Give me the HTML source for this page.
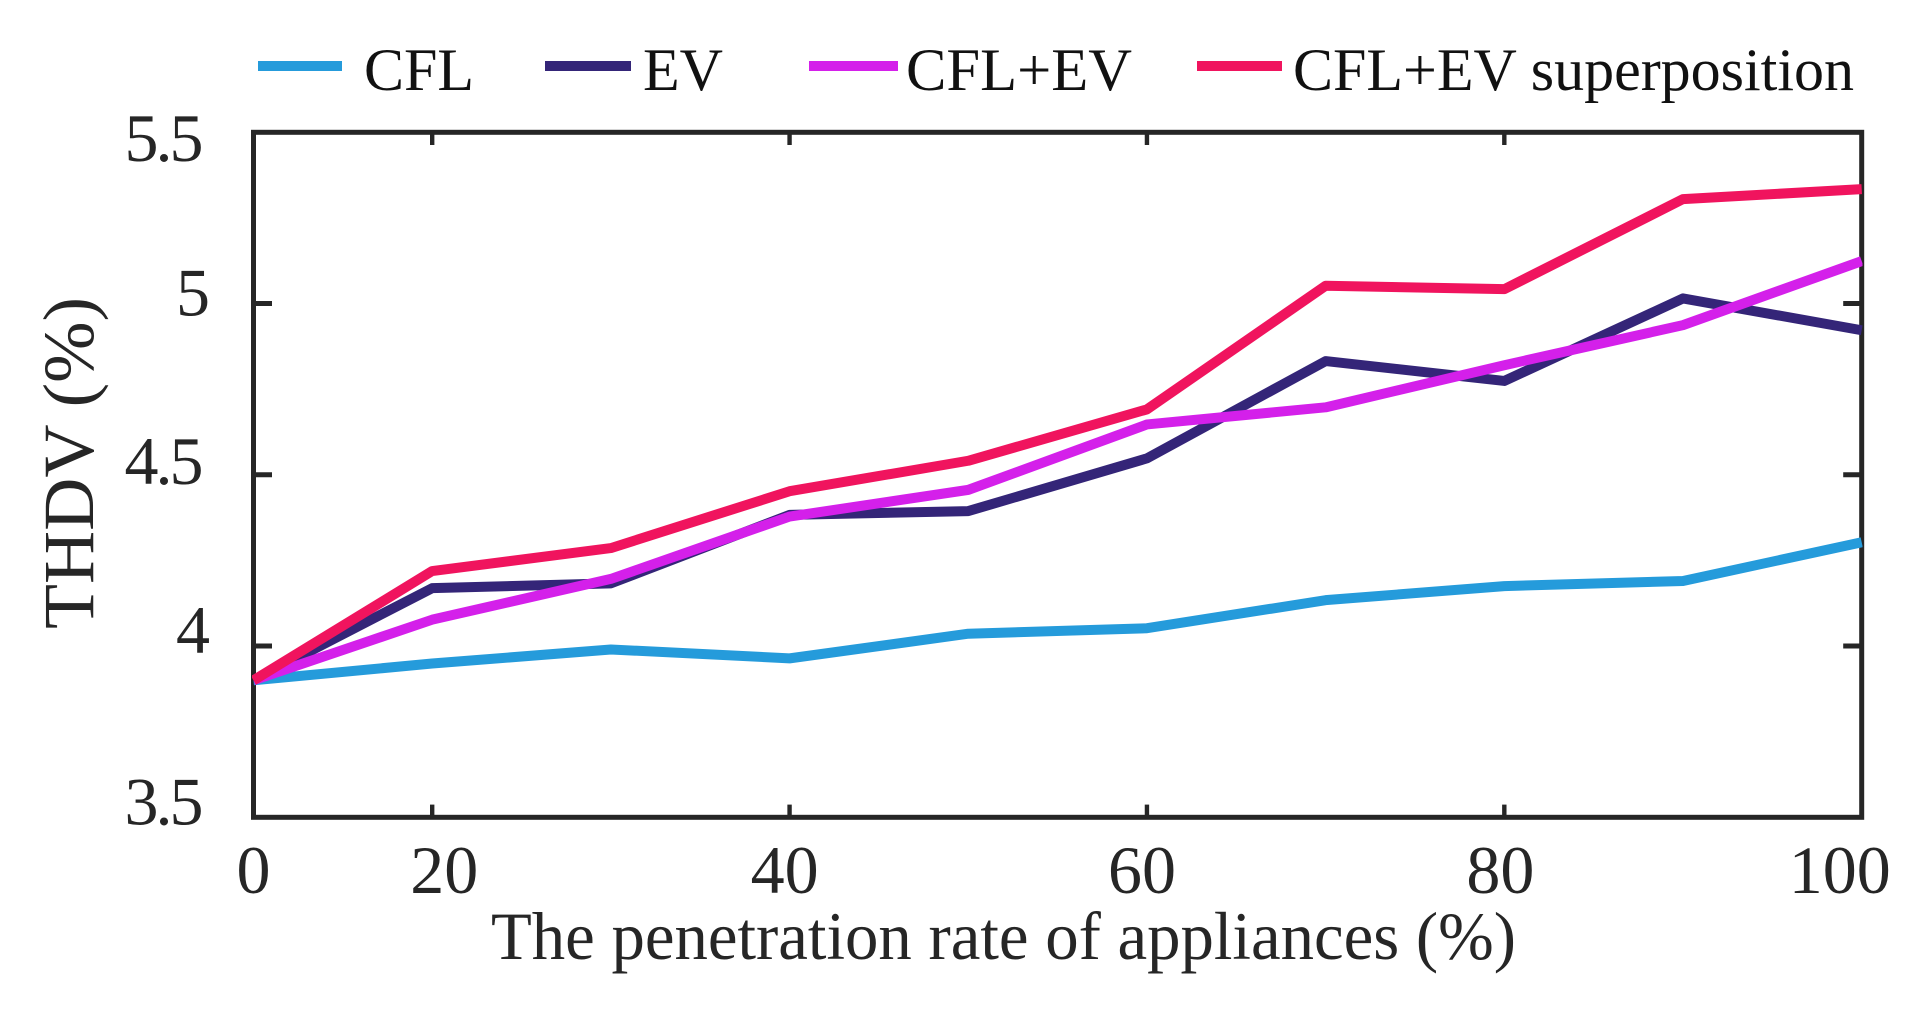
<!DOCTYPE html>
<html>
<head>
<meta charset="utf-8">
<title>THDV vs penetration rate</title>
<style>
html,body{margin:0;padding:0;background:#fff;}
svg{display:block;}
text{font-family:"Liberation Serif",serif;}
</style>
</head>
<body>
<svg id="chart" xmlns="http://www.w3.org/2000/svg" width="1916" height="1013" viewBox="0 0 1916 1013">
  <rect x="0" y="0" width="1916" height="1013" fill="#fff"/>
  <defs>
    <clipPath id="plot-clip"><rect x="252" y="130" width="1610.5" height="690"/></clipPath>
  </defs>
  <g id="legend">
    <g>
      <rect x="258" y="61" width="84" height="10" fill="#259bdb"/>
      <text x="364" y="90" font-size="60" fill="#111">CFL</text>
    </g>
    <g>
      <rect x="545" y="61" width="86" height="10" fill="#342578"/>
      <text x="643" y="90" font-size="60" fill="#111">EV</text>
    </g>
    <g>
      <rect x="809" y="61" width="89" height="10" fill="#d420ea"/>
      <text x="906" y="90" font-size="60" fill="#111" textLength="226" lengthAdjust="spacingAndGlyphs">CFL+EV</text>
    </g>
    <g>
      <rect x="1197" y="61" width="85" height="10" fill="#f0145e"/>
      <text x="1293" y="90" font-size="60" fill="#111" textLength="561" lengthAdjust="spacingAndGlyphs">CFL+EV superposition</text>
    </g>
  </g>
  <g id="ticks"></g>
  <rect x="253.5" y="132.3" width="1608.2" height="685" fill="none" stroke="#262626" stroke-width="5"/>
  <g id="tick-labels"></g>
  <g id="series" clip-path="url(#plot-clip)"></g>
  <text transform="translate(93,629) rotate(-90)" font-size="72" fill="#262626" textLength="332" lengthAdjust="spacingAndGlyphs">THDV (%)</text>
  <text x="491" y="959" font-size="68" fill="#262626" textLength="1025" lengthAdjust="spacingAndGlyphs">The penetration rate of appliances (%)</text>
</svg>
<script>
const categories = [0, 20, 30, 40, 50, 60, 70, 80, 90, 100];
const cflValues = [3.9, 3.949, 3.99, 3.964, 4.036, 4.052, 4.134, 4.175, 4.19, 4.303];
const evValues = [3.9, 4.169, 4.183, 4.383, 4.394, 4.548, 4.832, 4.774, 5.015, 4.922];
const cflEvValues = [3.9, 4.077, 4.196, 4.378, 4.456, 4.647, 4.697, 4.82, 4.937, 5.124];
const superpositionValues = [3.9, 4.219, 4.286, 4.452, 4.541, 4.691, 5.052, 5.042, 5.305, 5.334];
const xTickLabels = [0, 20, 40, 60, 80, 100];
const yTickLabels = [3.5, 4, 4.5, 5, 5.5];

const NS = 'http://www.w3.org/2000/svg';
const plot = {left: 253.5, right: 1861.7, top: 132.3, bottom: 817.3};
const yMin = 3.5, yMax = 5.5;

function xScale(category) {
  const i = categories.indexOf(category);
  return plot.left + i * (plot.right - plot.left) / (categories.length - 1);
}
function yScale(v) {
  return plot.bottom - (v - yMin) * (plot.bottom - plot.top) / (yMax - yMin);
}
function labelNudge(label) {
  if (label === 20) return 12;
  if (label === 40 || label === 60) return -5;
  if (label === 80) return -4;
  if (label === 100) return -22;
  return 0;
}
function yBaselineNudge(label) {
  if (label === 5.5) return 28.5;
  if (label === 5) return 11.7;
  if (label === 4.5) return 9;
  return 7;
}
function makeLine(x1, y1, x2, y2, width) {
  const l = document.createElementNS(NS, 'line');
  l.setAttribute('x1', x1);
  l.setAttribute('y1', y1);
  l.setAttribute('x2', x2);
  l.setAttribute('y2', y2);
  l.setAttribute('stroke', '#262626');
  l.setAttribute('stroke-width', width);
  return l;
}

const tickGroup = document.getElementById('ticks');
const labelGroup = document.getElementById('tick-labels');
const seriesGroup = document.getElementById('series');

xTickLabels.forEach(function (label) {
  const x = xScale(label);
  if (label !== 0 && label !== 100) {
    const bottomTick = makeLine(x, plot.bottom, x, plot.bottom - 12.7, 4.4);
    
    
    tickGroup.appendChild(bottomTick);
    const topTick = makeLine(x, plot.top, x, plot.top + 12.7, 4.4);
    
    
    tickGroup.appendChild(topTick);
  }
  const t = document.createElementNS(NS, 'text');
  
  
  t.setAttribute('x', x + labelNudge(label));
  t.setAttribute('y', 893);
  t.setAttribute('text-anchor', 'middle');
  t.setAttribute('font-size', '68');
  t.setAttribute('fill', '#262626');
  t.textContent = label;
  labelGroup.appendChild(t);
});

yTickLabels.forEach(function (label) {
  const y = yScale(label);
  if (label !== yMin && label !== yMax) {
    const leftTick = makeLine(plot.left, y, plot.left + 18.5, y, 5);
    
    
    tickGroup.appendChild(leftTick);
    const rightTick = makeLine(plot.right, y, plot.right - 18.5, y, 5);
    
    
    tickGroup.appendChild(rightTick);
  }
  const whole = Number.isInteger(label);
  const t = document.createElementNS(NS, 'text');
  
  
  t.setAttribute('x', whole ? 210 : 200.5);
  t.setAttribute('y', y + yBaselineNudge(label));
  t.setAttribute('text-anchor', 'end');
  t.setAttribute('font-size', '68');
  t.setAttribute('fill', '#262626');
  if (!whole) t.setAttribute('letter-spacing', '-3');
  t.textContent = label;
  labelGroup.appendChild(t);
});

function drawSeries(values, color, name) {
  const p = document.createElementNS(NS, 'polyline');
  
  
  p.setAttribute('points', values.map(function (v, i) {
    return xScale(categories[i]) + ',' + yScale(v);
  }).join(' '));
  p.setAttribute('fill', 'none');
  p.setAttribute('stroke', color);
  p.setAttribute('stroke-width', '10');
  p.setAttribute('stroke-linejoin', 'round');
  seriesGroup.appendChild(p);
}
drawSeries(cflValues, '#259bdb', 'series-cfl');
drawSeries(evValues, '#342578', 'series-ev');
drawSeries(cflEvValues, '#d420ea', 'series-cfl-ev');
drawSeries(superpositionValues, '#f0145e', 'series-superposition');
</script>
</body>
</html>
